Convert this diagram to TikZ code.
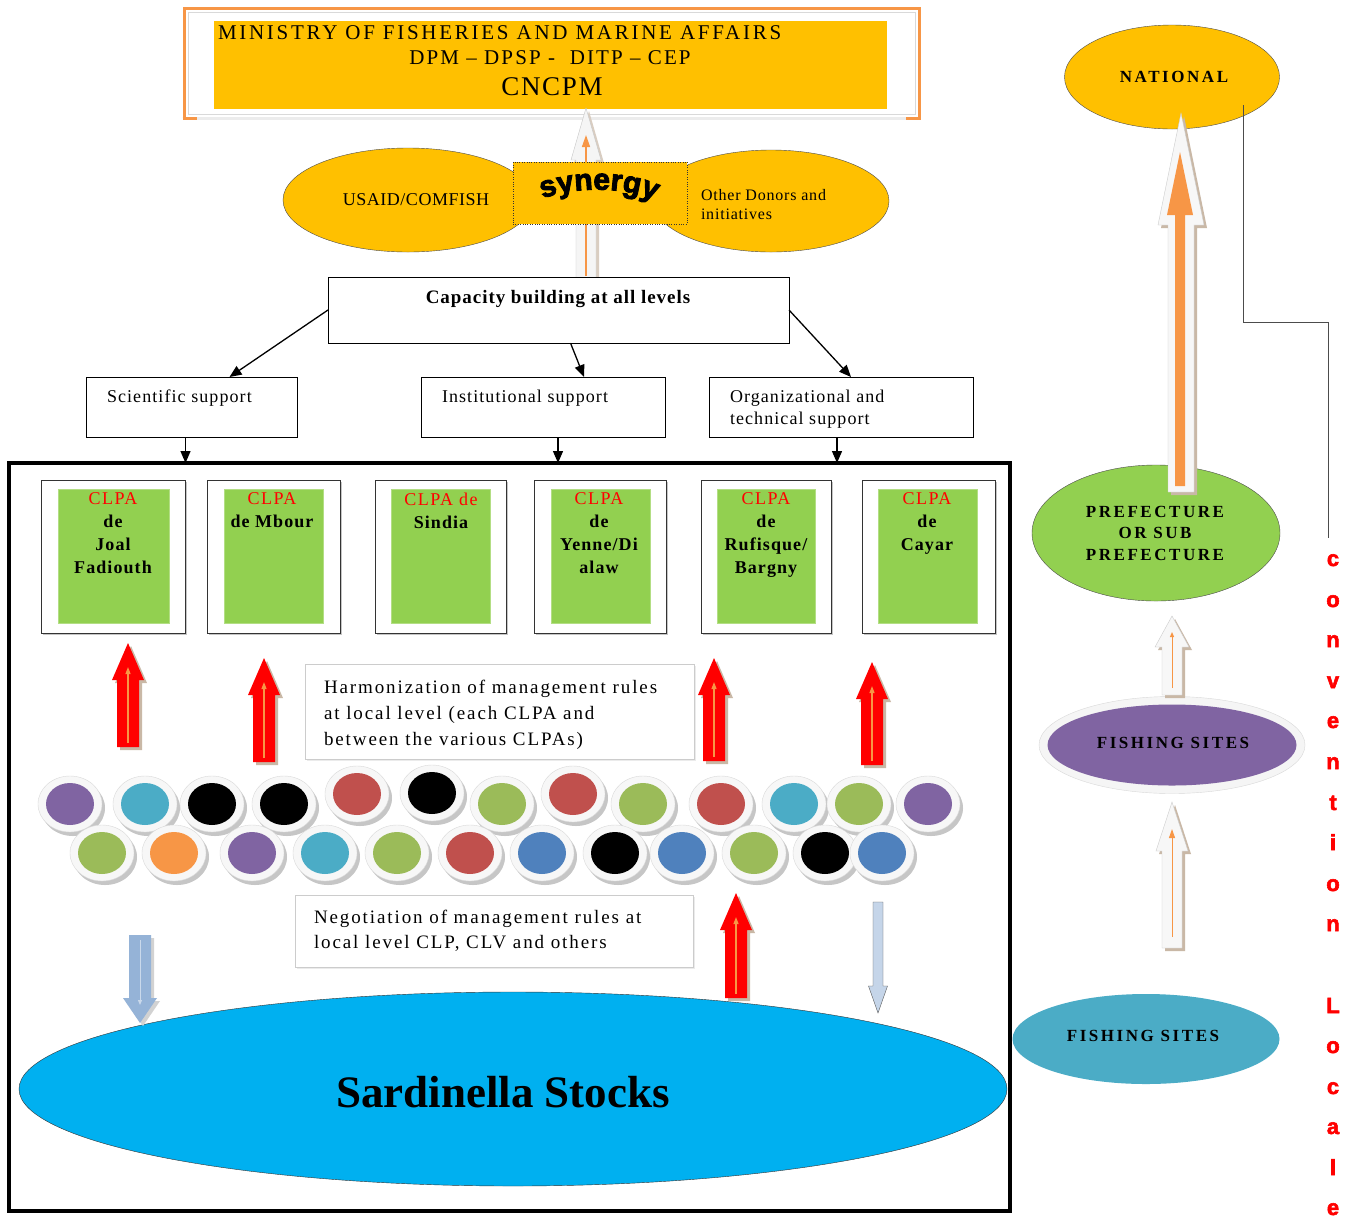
\documentclass[tikz,border=0pt]{standalone}
\usepackage{fontspec}
\setmainfont{Liberation Serif}
\setsansfont{Liberation Sans}
\usetikzlibrary{arrows.meta,shadows,decorations.text,shapes.geometric,calc}
\definecolor{myyellow}{HTML}{FFC000}
\definecolor{mygreen}{HTML}{92D050}
\definecolor{myorange}{HTML}{F79646}
\definecolor{cpurple}{HTML}{8064A2}
\definecolor{cteal}{HTML}{4BACC6}
\definecolor{cred}{HTML}{C0504D}
\definecolor{cgreen}{HTML}{9BBB59}
\definecolor{cblue}{HTML}{4F81BD}
\definecolor{skyblue}{HTML}{00B0F0}
\definecolor{steel}{HTML}{95B3D7}
\definecolor{tanshadow}{HTML}{C9B8A6}
\newcommand\myfs[3]{\fontsize{#1}{#2}\selectfont\addfontfeature{LetterSpace=#3}}
% block arrow pointing up: x, ybottom, ytip, body half width, head half width, head length, style
\newcommand\blkup[7]{\path[#7] ({#1-#4},{#2}) -- ({#1-#4},{#3+#6}) -- ({#1-#5},{#3+#6}) -- ({#1},{#3}) -- ({#1+#5},{#3+#6}) -- ({#1+#4},{#3+#6}) -- ({#1+#4},{#2}) -- cycle;}
% block arrow pointing down: x, ytop, ytip, body half width, head half width, head length, style
\newcommand\blkdown[7]{\path[#7] ({#1-#4},{#2}) -- ({#1-#4},{#3-#6}) -- ({#1-#5},{#3-#6}) -- ({#1},{#3}) -- ({#1+#5},{#3-#6}) -- ({#1+#4},{#3-#6}) -- ({#1+#4},{#2}) -- cycle;}
\newcommand\redup[3]{%
  \blkup{#1+3}{#2+3}{#3+3}{11}{16}{37}{fill=tanshadow}
  \blkup{#1}{#2}{#3}{11}{16}{37}{fill=red}
  \draw[myorange, line width=1.2pt, -{Triangle[length=7pt,width=5pt]}] (#1,#2-4) -- (#1,#3+24);}
\newcommand\blob[3]{%
  \fill[gray!45] ({#1+3},{#2+4}) ellipse [x radius=32, y radius=28];
  \path[fill=gray!6, draw=gray!30] (#1,#2) ellipse [x radius=32, y radius=28];
  \fill[#3] (#1,#2) ellipse [x radius=24, y radius=21];}
\tikzset{
  conn/.style={draw=black, line width=1.3pt, -{Triangle[length=12pt,width=10pt]}},
  plainbox/.style={draw=black, line width=0.9pt, fill=white, anchor=north west},
  clpaout/.style={draw=black!80, line width=0.9pt, fill=white, anchor=north west,
     drop shadow={shadow xshift=2pt,shadow yshift=-2pt,fill=black!45}},
  clpain/.style={fill=mygreen, draw=mygreen!70!white, anchor=north west, minimum width=#1, minimum height=134},
  clpatxt/.style={anchor=north, align=center, font=\bfseries\myfs{18}{23}{6}},
  notebox/.style={draw=gray!40, fill=white, anchor=north west,
     drop shadow={shadow xshift=2pt,shadow yshift=-2pt,fill=gray!30}},
  bodytxt/.style={align=left, font=\myfs{19}{26}{10}},
  sidetxt/.style={font=\bfseries\myfs{17}{21.5}{15}, align=center},
  vlet/.style={anchor=base, text=red, font=\sffamily\bfseries\fontsize{22}{22}\selectfont\addfontfeature{FakeBold=2.5}}
}
\begin{document}
\begin{tikzpicture}[x=1pt,y=-1pt, every node/.style={inner sep=0pt, outer sep=0pt}]
\useasboundingbox[fill=white] (0,0) rectangle (1351,1219);

% ---------- Ministry box ----------
\draw[gray!30, line width=1pt] (188,12) rectangle (915,114);
\draw[myorange, line width=3pt] (184,118) -- (184,8) -- (919,8) -- (919,118);
\draw[gray!15, line width=3pt] (186,118) -- (917,118);
\draw[myorange, line width=3pt] (182.5,118) -- (197,118) (906,118) -- (920.5,118);
\node[fill=myyellow, minimum width=673, minimum height=88, anchor=north west] (min) at (214,21) {};
\node[anchor=west, font=\myfs{21}{24}{13}] (tmin) at (218,33) {MINISTRY OF FISHERIES AND MARINE AFFAIRS};
\node[font=\myfs{21}{24}{10}] (tdpm) at (550,58) {DPM – DPSP -\ \ DITP – CEP};
\node[font=\myfs{27}{30}{6}] (tcnc) at (552,87) {CNCPM};

% ---------- arrow to ministry ----------
\blkup{589}{281}{111}{10}{15}{52}{fill=tanshadow!70}
\blkup{586}{278}{108}{10}{15}{52}{fill=gray!8, draw=gray!45}
\draw[myorange, line width=1.5pt, -{Triangle[length=12pt,width=8pt]}] (586,276) -- (586,135);

% ---------- donors ----------
\node[ellipse, draw=black!70, fill=myyellow, minimum width=250, minimum height=104] (usaid) at (408,200) {};
\node[ellipse, draw=black!70, fill=myyellow, minimum width=236, minimum height=102] (other) at (771,201) {};
\node[draw=black!80, dotted, fill=myyellow, minimum width=174, minimum height=62, anchor=north west] (syn) at (513,162) {};
\path[decorate, decoration={text along path, text={|\fontsize{30}{30}\selectfont\sffamily\bfseries\addfontfeature{FakeBold=3}|synergy}, text align=center}]
  (530,205) .. controls (560,185) and (636,183) .. (667,208);
\node[font=\myfs{18}{20}{3}] (tusaid) at (416,200) {USAID/COMFISH};
\node[anchor=north west, align=left, font=\myfs{16}{19}{5}] (tother) at (701,189) {Other Donors and\\initiatives};

% ---------- capacity building ----------
\node[plainbox, minimum width=461, minimum height=66] (cap) at (328,277) {};
\node[font=\bfseries\myfs{19}{22}{5}] (tcap) at (558,299) {Capacity building at all levels};
\node[plainbox, minimum width=211, minimum height=60] (sci) at (86,377) {};
\node[plainbox, minimum width=244, minimum height=60] (inst) at (421,377) {};
\node[plainbox, minimum width=264, minimum height=60] (org) at (709,377) {};
\node[anchor=west, font=\myfs{18}{22}{6}] (tsci) at (107,398) {Scientific support};
\node[anchor=west, font=\myfs{18}{22}{6}] (tinst) at (442,398) {Institutional support};
\node[anchor=north west, align=left, font=\myfs{18}{22}{6}] (torg) at (730,390) {Organizational and\\technical support};

% ---------- big frame ----------
\node[draw=black, line width=3.5pt, minimum width=1001, minimum height=748, anchor=north west] (frame) at (9,463) {};

\draw[conn] (cap.west) -- ([xshift=38pt]sci.north);
\draw[conn] ([xshift=12pt]cap.south) -- ([xshift=41pt]inst.north);
\draw[conn] (cap.east) -- ([xshift=10pt]org.north);
\draw[conn] ([xshift=-6pt]sci.south) -- ([xshift=-6pt]sci.south |- frame.north);
\draw[conn] ([xshift=15pt]inst.south) -- ([xshift=15pt]inst.south |- frame.north);
\draw[conn] ([xshift=-4pt]org.south) -- ([xshift=-4pt]org.south |- frame.north);

% ---------- CLPA boxes ----------
\node[clpaout, minimum width=144, minimum height=153] (b1) at (41,480) {};
\node[clpaout, minimum width=133, minimum height=153] (b2) at (207,480) {};
\node[clpaout, minimum width=131, minimum height=153] (b3) at (375,480) {};
\node[clpaout, minimum width=132, minimum height=153] (b4) at (534,480) {};
\node[clpaout, minimum width=130, minimum height=153] (b5) at (701,480) {};
\node[clpaout, minimum width=133, minimum height=153] (b6) at (862,480) {};
\node[clpain=111] (g1) at (58,489) {};
\node[clpain=99] (g2) at (224,489) {};
\node[clpain=99] (g3) at (391,489) {};
\node[clpain=99] (g4) at (551,489) {};
\node[clpain=98] (g5) at (717,489) {};
\node[clpain=99] (g6) at (878,489) {};
\newcommand\clpa{{\mdseries\color{red}\addfontfeature{LetterSpace=8}CLPA}}
\node[clpatxt] (l1) at (113,493) {\clpa\\de\\Joal\\Fadiouth};
\node[clpatxt] (l2) at (272,493) {\clpa\\de Mbour};
\node[clpatxt] (l3) at (441,493) {{\mdseries\color{red}\addfontfeature{LetterSpace=8}CLPA de}\\Sindia};
\node[clpatxt] (l4) at (599,493) {\clpa\\de\\Yenne/Di\\alaw};
\node[clpatxt] (l5) at (766,493) {\clpa\\de\\Rufisque/\\Bargny};
\node[clpatxt] (l6) at (927,493) {\clpa\\de\\Cayar};

% ---------- red arrows up ----------
\redup{128}{747}{643}
\redup{264}{762}{658}
\redup{714}{761}{658}
\redup{872}{765}{662}

% ---------- harmonization ----------
\node[notebox, minimum width=389, minimum height=95] (harm) at (305,664) {};
\node[bodytxt, anchor=north west] (tharm) at (324,680) {Harmonization of management rules\\at local level (each CLPA and\\between the various CLPAs)};

% ---------- circles ----------
\blob{70}{804}{cpurple}
\blob{145}{804}{cteal}
\blob{212}{804}{black}
\blob{284}{804}{black}
\blob{357}{794}{cred}
\blob{432}{793}{black}
\blob{502}{804}{cgreen}
\blob{573}{794}{cred}
\blob{643}{804}{cgreen}
\blob{721}{804}{cred}
\blob{794}{804}{cteal}
\blob{859}{804}{cgreen}
\blob{928}{804}{cpurple}
\blob{102}{853}{cgreen}
\blob{174}{853}{myorange}
\blob{252}{853}{cpurple}
\blob{325}{853}{cteal}
\blob{397}{853}{cgreen}
\blob{470}{853}{cred}
\blob{542}{853}{cblue}
\blob{615}{853}{black}
\blob{682}{853}{cblue}
\blob{754}{853}{cgreen}
\blob{825}{853}{black}
\blob{882}{853}{cblue}

% ---------- negotiation ----------
\node[notebox, minimum width=398, minimum height=72] (nego) at (295,895) {};
\node[bodytxt, anchor=north west, font=\myfs{19}{25}{10}] (tnego) at (314,910) {Negotiation of management rules at\\local level CLP, CLV and others};

% ---------- Sardinella ----------
\node[ellipse, draw=black!80, fill=skyblue, minimum width=988, minimum height=194] (sard) at (513,1089) {};
\node[font=\bfseries\fontsize{45}{50}\selectfont] (tsard) at (503,1092) {Sardinella Stocks};

\blkdown{143}{938}{1026}{11}{17}{25}{fill=gray!35}
\blkdown{140}{935}{1023}{11}{17}{25}{fill=steel}
\draw[steel!50!white, line width=1pt, -{Triangle[length=5pt,width=4pt]}] (140,940) -- (140,1005);
\redup{736}{998}{893}
\blkdown{878}{902}{1013}{5}{9.5}{27}{fill=steel!55, draw=gray!70!black}

% ---------- right column ----------
\node[ellipse, draw=black!70, fill=myyellow, minimum width=215, minimum height=104] (nat) at (1172,77) {};
\node[font=\bfseries\myfs{17}{20}{15}] (tnat) at (1174,77) {NATIONAL};
\node[ellipse, draw=black!70, fill=mygreen, minimum width=248, minimum height=136] (pref) at (1156,533) {};
\node[sidetxt] (tpref) at (1155,533) {PREFECTURE\\OR SUB\\PREFECTURE};
\blkup{1184}{495}{116}{13}{23}{112}{fill=tanshadow}
\blkup{1181}{492}{113}{13}{23}{112}{fill=gray!6, draw=gray!40}
\blkup{1180}{486}{152}{5}{13}{63}{fill=myorange}

\coordinate (c1) at (1243,105);
\coordinate (c2) at (1328,538);
\draw[black!70, line width=1pt] (c1) |- (1328,322) -- (c2);

\node[ellipse, draw=gray!30, fill=gray!8, minimum width=266, minimum height=97] (fsring) at (1172,745) {};
\node[ellipse, fill=cpurple, minimum width=249, minimum height=81] (fs1) at (1172,745) {};
\node[sidetxt] (tfs1) at (1173,743) {FISHING SITES};

\blkup{1175}{698}{619}{10}{17}{31}{fill=tanshadow}
\blkup{1172}{695}{616}{10}{17}{31}{fill=gray!6, draw=gray!40}
\draw[myorange, line width=1pt, -{Triangle[length=5pt,width=4pt]}] (1172,688) -- (1172,632);
\blkup{1175}{951}{805}{10}{16}{49}{fill=tanshadow}
\blkup{1172}{948}{802}{10}{16}{49}{fill=gray!6, draw=gray!40}
\draw[myorange, line width=1pt, -{Triangle[length=9pt,width=6pt]}] (1172,937) -- (1172,829);

\node[ellipse, fill=cteal, minimum width=267, minimum height=90] (fs2) at (1146,1039) {};
\node[sidetxt] (tfs2) at (1143,1036) {FISHING SITES};

% ---------- vertical text ----------
\foreach \ch/\yy [count=\k] in {c/566,o/607,n/647,v/688,e/728,n/769,t/810,i/850,o/891,n/931,L/1013,o/1053,c/1094,a/1134,l/1175,e/1215}
  \node[vlet] (v\k) at (1333,\yy) {\ch};
\end{tikzpicture}
\end{document}
